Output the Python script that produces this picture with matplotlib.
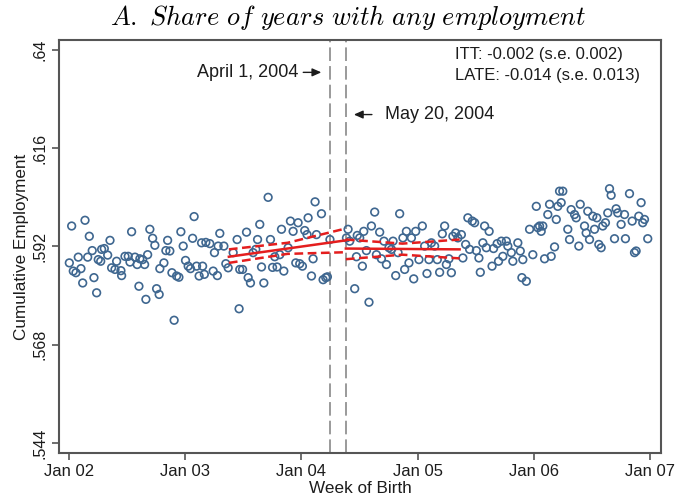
import numpy as np
import matplotlib
matplotlib.use('Agg')
import matplotlib.pyplot as plt
from matplotlib.transforms import offset_copy

# week of birth as decimal year, share of years with any employment
birth_week = [
    2002.003, 2002.023, 2002.037, 2002.060, 2002.080, 2002.103, 2002.118, 2002.138, 2002.161, 2002.175,
    2002.200, 2002.215, 2002.238, 2002.252, 2002.273, 2002.281, 2002.304, 2002.333, 2002.353, 2002.367,
    2002.396, 2002.410, 2002.447, 2002.453, 2002.482, 2002.510, 2002.525, 2002.539, 2002.568, 2002.587,
    2002.602, 2002.610, 2002.634, 2002.651, 2002.662, 2002.677, 2002.696, 2002.720, 2002.739, 2002.754,
    2002.776, 2002.782, 2002.817, 2002.834, 2002.849, 2002.868, 2002.886, 2002.905, 2002.926, 2002.946,
    2002.963, 2002.983, 2003.003, 2003.026, 2003.046, 2003.064, 2003.077, 2003.098, 2003.120, 2003.141,
    2003.150, 2003.165, 2003.178, 2003.212, 2003.241, 2003.252, 2003.277, 2003.284, 2003.298, 2003.333,
    2003.350, 2003.370, 2003.413, 2003.447, 2003.464, 2003.470, 2003.494, 2003.528, 2003.542, 2003.562,
    2003.585, 2003.608, 2003.623, 2003.642, 2003.657, 2003.677, 2003.714, 2003.734, 2003.752, 2003.771,
    2003.791, 2003.814, 2003.829, 2003.849, 2003.886, 2003.906, 2003.929, 2003.952, 2003.972, 2003.986,
    2004.009, 2004.029, 2004.049, 2004.058, 2004.087, 2004.101, 2004.118, 2004.130, 2004.173, 2004.187,
    2004.210, 2004.224, 2004.246,
    2004.388, 2004.402, 2004.416, 2004.459, 2004.474, 2004.481, 2004.502, 2004.525, 2004.537, 2004.560,
    2004.582, 2004.603, 2004.631, 2004.646, 2004.674, 2004.689, 2004.711, 2004.732, 2004.754, 2004.775,
    2004.789, 2004.812, 2004.832, 2004.846, 2004.874, 2004.889, 2004.904, 2004.926, 2004.947, 2004.967,
    2004.984, 2005.012, 2005.041, 2005.061, 2005.081, 2005.098, 2005.119, 2005.147, 2005.170, 2005.190,
    2005.213, 2005.233, 2005.248, 2005.270, 2005.291, 2005.304, 2005.328, 2005.347, 2005.377, 2005.390,
    2005.414, 2005.433, 2005.448, 2005.471, 2005.491, 2005.506, 2005.528, 2005.540, 2005.562, 2005.577,
    2005.592, 2005.616, 2005.641, 2005.654, 2005.685, 2005.697, 2005.721, 2005.734, 2005.764, 2005.777,
    2005.807, 2005.820, 2005.863, 2005.884, 2005.898, 2005.906, 2005.936, 2005.964, 2005.992, 2006.022,
    2006.035, 2006.050, 2006.064, 2006.078, 2006.093, 2006.121, 2006.136, 2006.150, 2006.179, 2006.194,
    2006.207, 2006.222, 2006.236, 2006.250, 2006.293, 2006.308, 2006.322, 2006.351, 2006.365, 2006.388,
    2006.400, 2006.437, 2006.451, 2006.465, 2006.480, 2006.508, 2006.523, 2006.543, 2006.560, 2006.580,
    2006.594, 2006.617, 2006.637, 2006.652, 2006.666, 2006.695, 2006.709, 2006.723, 2006.752, 2006.781,
    2006.789, 2006.824, 2006.847, 2006.867, 2006.881, 2006.904, 2006.924, 2006.938, 2006.953, 2006.981,
]
employment = [
    0.5880, 0.5970, 0.5860, 0.5856, 0.5894, 0.5866, 0.5831, 0.5984, 0.5894, 0.5945,
    0.5910, 0.5844, 0.5807, 0.5888, 0.5884, 0.5913, 0.5915, 0.5899, 0.5935, 0.5868,
    0.5864, 0.5884, 0.5861, 0.5849, 0.5896, 0.5896, 0.5882, 0.5956, 0.5894, 0.5876,
    0.5823, 0.5890, 0.5888, 0.5876, 0.5791, 0.5900, 0.5962, 0.5940, 0.5923, 0.5817,
    0.5803, 0.5866, 0.5880, 0.5910, 0.5935, 0.5909, 0.5856, 0.5740, 0.5848, 0.5845,
    0.5956, 0.5921, 0.5886, 0.5872, 0.5866, 0.5940, 0.5993, 0.5872, 0.5848, 0.5929,
    0.5872, 0.5852, 0.5930, 0.5927, 0.5860, 0.5905, 0.5849, 0.5921, 0.5952, 0.5921,
    0.5878, 0.5868, 0.5905, 0.5937, 0.5768, 0.5864, 0.5864, 0.5955, 0.5844, 0.5831,
    0.5905, 0.5913, 0.5937, 0.5974, 0.5870, 0.5831, 0.6040, 0.5937, 0.5869, 0.5895,
    0.5870, 0.5900, 0.5962, 0.5860, 0.5917, 0.5982, 0.5957, 0.5880, 0.5978, 0.5878,
    0.5872, 0.5959, 0.5949, 0.5990, 0.5848, 0.5890, 0.6029, 0.5949, 0.6000, 0.5839,
    0.5844, 0.5846, 0.5937,
    0.5941, 0.5962, 0.5933, 0.5817, 0.5895, 0.5947, 0.5941, 0.5872, 0.5957, 0.5910,
    0.5784, 0.5970, 0.6004, 0.5900, 0.5955, 0.5890, 0.5933, 0.5876, 0.5917, 0.5913,
    0.5933, 0.5849, 0.5905, 0.6000, 0.5941, 0.5864, 0.5957, 0.5880, 0.5941, 0.5841,
    0.5957, 0.5888, 0.5970, 0.5921, 0.5854, 0.5888, 0.5929, 0.5921, 0.5888, 0.5857,
    0.5951, 0.5970, 0.5876, 0.5890, 0.5856, 0.5945, 0.5953, 0.5941, 0.5949, 0.5892,
    0.5925, 0.5990, 0.5913, 0.5982, 0.5978, 0.5910, 0.5892, 0.5857, 0.5929, 0.5970,
    0.5917, 0.5957, 0.5872, 0.5915, 0.5927, 0.5884, 0.5933, 0.5896, 0.5933, 0.5921,
    0.5905, 0.5884, 0.5929, 0.5909, 0.5844, 0.5888, 0.5835, 0.5962, 0.5900, 0.6018,
    0.5966, 0.5970, 0.5957, 0.5970, 0.5890, 0.5998, 0.6023, 0.5896, 0.5919, 0.5986,
    0.6018, 0.6055, 0.6027, 0.6055, 0.5962, 0.5937, 0.6010, 0.5998, 0.5990, 0.5921,
    0.6023, 0.5970, 0.5953, 0.6006, 0.5937, 0.5994, 0.5962, 0.5990, 0.5925, 0.5917,
    0.5970, 0.5978, 0.6002, 0.6061, 0.6045, 0.5939, 0.6012, 0.6002, 0.5974, 0.5998,
    0.5939, 0.6049, 0.5982, 0.5905, 0.5909, 0.5994, 0.6027, 0.5978, 0.5986, 0.5939,
]

cutoff_dates = [2004.249, 2004.383]          # April 1, 2004 and May 20, 2004
cutoff_labels = ['April 1, 2004', 'May 20, 2004']

# local linear fits and 95% bands
fit_left_x = [2003.376, 2003.88, 2004.383]
fit_left = [0.5895, 0.5915, 0.5935]
fit_left_hi = [0.5913, 0.5929, 0.5964]
fit_left_lo = [0.5880, 0.5902, 0.5906]
fit_right_x = [2004.383, 2004.87, 2005.362]
fit_right = [0.5915, 0.5914, 0.5913]
fit_right_hi = [0.5937, 0.5927, 0.5937]
fit_right_lo = [0.5889, 0.5900, 0.5891]

year_ticks = [2002, 2003, 2004, 2005, 2006, 2007]
year_labels = ['Jan 02', 'Jan 03', 'Jan 04', 'Jan 05', 'Jan 06', 'Jan 07']
y_ticks = [0.544, 0.568, 0.592, 0.616, 0.64]
y_labels = ['.544', '.568', '.592', '.616', '.64']

itt_text = 'ITT: -0.002 (s.e. 0.002)'
late_text = 'LATE: -0.014 (s.e. 0.013)'

plt.rcParams['font.family'] = ['Liberation Sans', 'DejaVu Sans']
plt.rcParams['mathtext.fontset'] = 'cm'
txt = '#1c1c1c'

fig = plt.figure(figsize=(6.78, 5.03), dpi=100)
ax = fig.add_axes([0.0870, 0.0994, 0.8879, 0.8211])

ax.scatter(birth_week, employment, s=30, facecolors='none', edgecolors='#3f6790',
           linewidths=1.2, zorder=2)

red = '#e41e1e'
dash = (0, (3.5, 1.8))
for fx, fy, fhi, flo in ((fit_left_x, fit_left, fit_left_hi, fit_left_lo),
                         (fit_right_x, fit_right, fit_right_hi, fit_right_lo)):
    ax.plot(fx, fy, color=red, lw=1.8, zorder=3)
    ax.plot(fx, fhi, color=red, lw=1.8, ls=dash, zorder=3)
    ax.plot(fx, flo, color=red, lw=1.8, ls=dash, zorder=3)

for d in cutoff_dates:
    ax.axvline(d, color='#9a9a9a', lw=1.4, ls=(0, (7, 2.6)), zorder=1)

# cutoff labels with small arrows pointing at the lines
arrow = dict(arrowstyle='-|>,head_length=0.45,head_width=0.2', color=txt, lw=1.0,
             shrinkA=0, shrinkB=0, mutation_scale=12)
y_apr, y_may = 0.6345, 0.6242
ax.annotate('', xy=(cutoff_dates[0], y_apr), xycoords=offset_copy(ax.transData, fig, x=-9, y=0, units='dots'),
            xytext=(-13, 0), textcoords='offset points', arrowprops=arrow)
ax.annotate(cutoff_labels[0], xy=(cutoff_dates[0], y_apr), xytext=(-23, 0),
            textcoords='offset points', ha='right', va='center', fontsize=13, color=txt)
ax.annotate('', xy=(cutoff_dates[1], y_may), xycoords=offset_copy(ax.transData, fig, x=8, y=0, units='dots'),
            xytext=(13, 0), textcoords='offset points', arrowprops=arrow)
ax.annotate(cutoff_labels[1], xy=(cutoff_dates[1], y_may), xytext=(28, 0),
            textcoords='offset points', ha='left', va='center', fontsize=13, color=txt)

ax.text(0.658, 0.964, itt_text, transform=ax.transAxes, ha='left', va='center', fontsize=12, color=txt)
ax.text(0.658, 0.915, late_text, transform=ax.transAxes, ha='left', va='center', fontsize=12, color=txt)

ax.set_xlim(2001.914, 2007.095)
ax.set_ylim(0.5416, 0.6424)
ax.set_xticks(year_ticks)
ax.set_xticklabels(year_labels, fontsize=12, color=txt)
ax.set_yticks(y_ticks)
ax.set_yticklabels(y_labels, fontsize=11.5, color=txt, rotation=90, va='center')
ax.tick_params(axis='both', direction='out', length=5, width=1.2, color='#555555', pad=3)

for s in ax.spines.values():
    s.set_color('#555555')
    s.set_linewidth(1.5)

ax.set_xlabel('Week of Birth', fontsize=12.3, color=txt, labelpad=1)
ax.set_ylabel('Cumulative Employment', fontsize=12.3, color=txt, labelpad=3)

fig.text(0.513, 0.966, r'$\mathit{A.\ Share\ of\ years\ with\ any\ employment}$',
         ha='center', va='center', fontsize=19)

fig.savefig('out.png', dpi=100, facecolor='white')
plt.close(fig)
